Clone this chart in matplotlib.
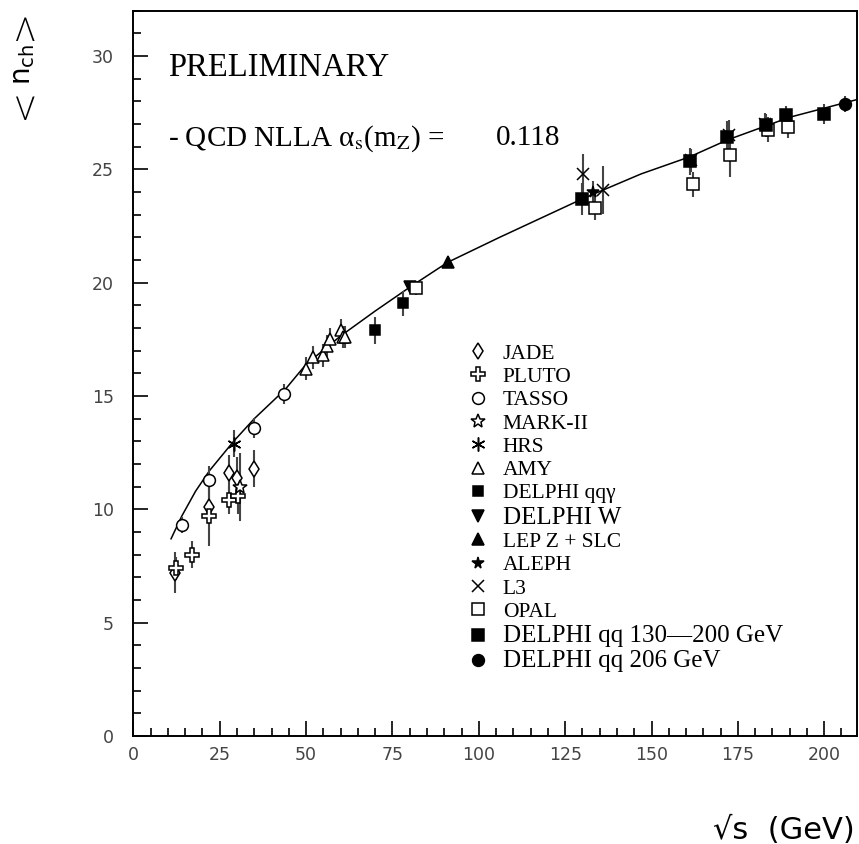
import numpy as np
import matplotlib
matplotlib.use("Agg")
import matplotlib.pyplot as plt
from matplotlib.lines import Line2D
from matplotlib.ticker import MultipleLocator

plt.rcParams['mathtext.fontset'] = 'stix'

# data: sqrt(s) in GeV, <n_ch>, error
jade_x = [12.0, 22.0, 27.7, 29.9, 34.8]
jade_y = [7.2, 10.1, 11.6, 11.4, 11.8]
jade_e = [0.9, 0.6, 0.8, 0.9, 0.8]

pluto_x = [12.4, 17.0, 22.0, 27.6, 30.2]
pluto_y = [7.4, 8.0, 9.7, 10.4, 10.6]
pluto_e = [0.5, 0.6, 1.3, 0.6, 0.8]

tasso_x = [14.0, 22.0, 34.8, 43.6]
tasso_y = [9.3, 11.3, 13.6, 15.1]
tasso_e = [0.35, 0.6, 0.45, 0.45]

mark2_x = [31.0]
mark2_y = [11.0]
mark2_e = [1.5]

hrs_x = [29.0]
hrs_y = [12.9]
hrs_e = [0.6]

amy_x = [50.0, 52.0, 55.0, 56.0, 57.0, 60.0, 60.8, 61.4]
amy_y = [16.2, 16.7, 16.8, 17.2, 17.5, 17.9, 17.6, 17.6]
amy_e = [0.5, 0.5, 0.5, 0.5, 0.5, 0.5, 0.5, 0.5]

dqqg_x = [70.0, 78.0]
dqqg_y = [17.9, 19.1]
dqqg_e = [0.6, 0.55]

dw_x = [80.1]
dw_y = [19.8]
dw_e = [0.2]

lepz_x = [91.2]
lepz_y = [20.9]
lepz_e = [0.1]

aleph_x = [133.0]
aleph_y = [24.0]
aleph_e = [0.5]

l3_x = [130.1, 136.1, 161.3, 172.3, 182.8]
l3_y = [24.8, 24.1, 25.4, 26.5, 27.0]
l3_e = [0.9, 1.05, 0.5, 0.7, 0.5]

opal_x = [81.8, 133.5, 161.9, 172.8, 183.6, 189.6]
opal_y = [19.75, 23.3, 24.35, 25.65, 26.75, 26.85]
opal_e = [0.3, 0.55, 0.55, 1.0, 0.55, 0.45]

dqq_x = [129.8, 161.1, 171.9, 183.1, 188.9, 199.9]
dqq_y = [23.7, 25.35, 26.45, 26.95, 27.4, 27.45]
dqq_e = [0.7, 0.6, 0.7, 0.5, 0.4, 0.45]

d206_x = [206.0]
d206_y = [27.9]
d206_e = [0.35]

# QCD NLLA curve
qcd_x = [10.9, 14, 18, 22, 29, 35, 44, 50, 60, 70, 80, 91, 106, 130, 147, 161, 172, 190, 210]
qcd_y = [8.7, 9.7, 10.8, 11.7, 13.0, 14.0, 15.3, 16.4, 17.65, 18.75, 19.8, 20.9, 22.0,
         23.7, 24.8, 25.55, 26.3, 27.3, 28.1]

fig = plt.figure(figsize=(8.59, 8.44), dpi=100)
ax = fig.add_axes([0.1553, 0.128, 0.8424, 0.8593])

ax.plot(qcd_x, qcd_y, color='black', lw=1.1, zorder=2)

ecol = '#444444'
series = [
    (jade_x, jade_y, jade_e, dict(marker='d', ms=8, mfc='white', mec='black'), 'JADE'),
    (pluto_x, pluto_y, pluto_e, dict(marker='P', ms=9.5, mfc='white', mec='black'), 'PLUTO'),
    (tasso_x, tasso_y, tasso_e, dict(marker='o', ms=8.5, mfc='white', mec='black'), 'TASSO'),
    (mark2_x, mark2_y, mark2_e, dict(marker='*', ms=10, mfc='white', mec='black'), 'MARK-II'),
    (hrs_x, hrs_y, hrs_e, dict(marker=(6, 2, 0), ms=10, mec='black'), 'HRS'),
    (amy_x, amy_y, amy_e, dict(marker='^', ms=9, mfc='white', mec='black'), 'AMY'),
    (dqqg_x, dqqg_y, dqqg_e, dict(marker='s', ms=7.5, mfc='black', mec='black'), 'DELPHI qq\u03b3'),
    (dw_x, dw_y, dw_e, dict(marker='v', ms=8.5, mfc='black', mec='black'), 'DELPHI W'),
    (lepz_x, lepz_y, lepz_e, dict(marker='^', ms=8.5, mfc='black', mec='black'), 'LEP Z + SLC'),
    (aleph_x, aleph_y, aleph_e, dict(marker='*', ms=8.5, mfc='black', mec='black'), 'ALEPH'),
    (l3_x, l3_y, l3_e, dict(marker='x', ms=9, mec='black'), 'L3'),
    (opal_x, opal_y, opal_e, dict(marker='s', ms=8, mfc='white', mec='black'), 'OPAL'),
    (dqq_x, dqq_y, dqq_e, dict(marker='s', ms=8.5, mfc='black', mec='black'), 'DELPHI qq 130\u2014200 GeV'),
    (d206_x, d206_y, d206_e, dict(marker='o', ms=8.5, mfc='black', mec='black'), 'DELPHI qq 206 GeV'),
]

handles = []
labels = []
for x, y, e, st, lab in series:
    ax.errorbar(x, y, yerr=e, fmt='none', ecolor=ecol, elinewidth=1.5, capsize=0, zorder=3)
    ax.plot(x, y, ls='none', mew=1.1, zorder=4, **st)
    handles.append(Line2D([], [], ls='none', mew=1.1, **st))
    labels.append(lab)

ax.set_xlim(0, 209.5)
ax.set_ylim(0, 32)
ax.xaxis.set_major_locator(MultipleLocator(25))
ax.xaxis.set_minor_locator(MultipleLocator(5))
ax.yaxis.set_major_locator(MultipleLocator(5))
ax.yaxis.set_minor_locator(MultipleLocator(1))
ax.tick_params(which='both', direction='in', top=False, right=False, width=1.2)
ax.tick_params(which='major', length=11)
ax.tick_params(which='minor', length=5.5)
ax.tick_params(axis='x', pad=7)
ax.tick_params(axis='y', pad=14)
for lab in ax.get_xticklabels() + ax.get_yticklabels():
    lab.set_fontfamily('DejaVu Sans')
    lab.set_fontsize(12.5)
    lab.set_color('#444444')
for sp in ax.spines.values():
    sp.set_linewidth(1.4)

ax.text(0.048, 0.921, 'PRELIMINARY', transform=ax.transAxes, fontsize=23.5,
        family='Liberation Serif', va='center', ha='left')
ax.text(0.048, 0.824, '- QCD NLLA \u03b1$_{\\rm s}$(m$_{\\rm Z}$) =', transform=ax.transAxes,
        fontsize=21, family='Liberation Serif', va='center', ha='left')
ax.text(0.501, 0.824, '0.118', transform=ax.transAxes,
        fontsize=21, family='Liberation Serif', va='center', ha='left')

leg = ax.legend(handles, labels, loc='upper left', bbox_to_anchor=(0.461, 0.541),
                frameon=False, prop={'family': 'Liberation Serif', 'size': 15.5},
                handlelength=1.0, handletextpad=0.66, labelspacing=0.15, borderpad=0,
                borderaxespad=0)
for i, t in enumerate(leg.get_texts()):
    if i in (7, 12, 13):
        t.set_fontsize(18)

# y label: chevrons are drawn larger than n_ch, as in the original
fig.text(24 / 859, 1 - 103 / 844, '<', rotation=90, fontsize=27, ha='center', va='center',
         family='DejaVu Sans', fontweight='light')
fig.text(23 / 859, 1 - 64 / 844, r'$\mathrm{n}_{\mathrm{ch}}$', rotation=90, fontsize=20,
         ha='center', va='center', math_fontfamily='dejavusans')
fig.text(24 / 859, 1 - 24 / 844, '>', rotation=90, fontsize=27, ha='center', va='center',
         family='DejaVu Sans', fontweight='light')
fig.text(855 / 859, 1 - 830 / 844, '\u221as  (GeV)', fontsize=22, ha='right', va='center',
         family='DejaVu Sans')

fig.savefig('out.png', dpi=100)
